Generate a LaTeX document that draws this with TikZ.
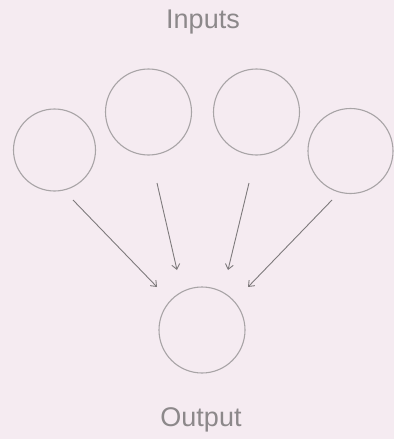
\documentclass[tikz,border=0pt]{standalone}
\usepackage{fontspec}
\setmainfont{Liberation Sans}
\usetikzlibrary{arrows.meta}
\definecolor{bgpink}{HTML}{F5EBF1}
\definecolor{ringgray}{HTML}{A8A4A6}
\definecolor{arrowgray}{HTML}{7E7A7C}
\definecolor{textgray}{HTML}{8C888A}
\begin{document}
\begin{tikzpicture}[x=1pt,y=-1pt,
  neuron/.style={circle,draw=ringgray,line width=1.1pt,minimum size=84pt,inner sep=0pt},
  conn/.style={draw=arrowgray,line width=0.9pt,-{Straight Barb[length=5pt,width=8pt]}},
  label/.style={text=textgray,font=\fontsize{27}{30}\selectfont}]
\fill[bgpink] (0,0) rectangle (394,439);
\useasboundingbox (0,0) rectangle (394,439);
\node[label] (inputs) at (203,22) {Inputs};
\node[neuron,minimum size=82pt] (i1) at (54.5,150) {};
\node[neuron,minimum size=86pt] (i2) at (148.5,112) {};
\node[neuron,minimum size=86pt] (i3) at (256.5,112) {};
\node[neuron,minimum size=85pt] (i4) at (350.5,151) {};
\node[neuron,minimum size=86pt] (out) at (202,330) {};
\node[label] (output) at (201,420) {Output};
\coordinate (s1) at (73,200);
\coordinate (e1) at (157,287);
\coordinate (s2) at (157,183);
\coordinate (e2) at (177,270);
\coordinate (s3) at (249,183);
\coordinate (e3) at (228,270);
\coordinate (s4) at (332,200);
\coordinate (e4) at (248,287);
\draw[conn] (s1) -- (e1);
\draw[conn] (s2) -- (e2);
\draw[conn] (s3) -- (e3);
\draw[conn] (s4) -- (e4);
\end{tikzpicture}
\end{document}
